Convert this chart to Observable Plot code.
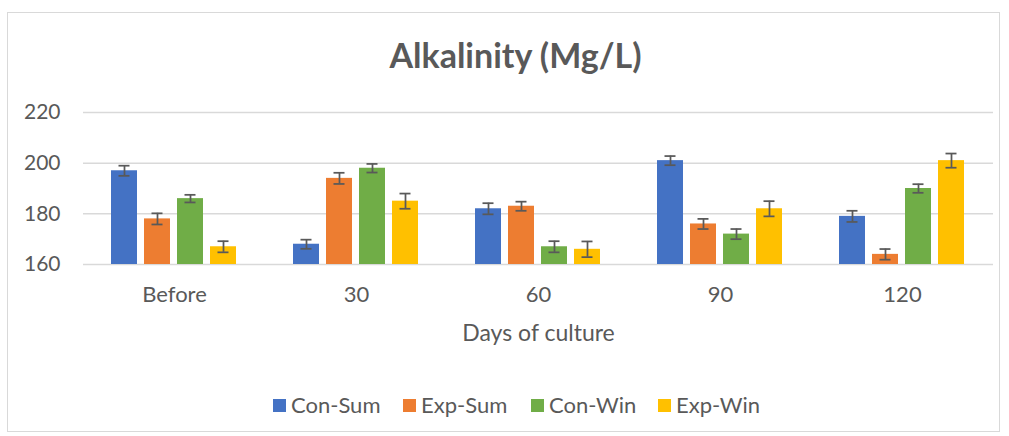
<!DOCTYPE html>
<html>
<head>
<meta charset="utf-8">
<script src="https://cdn.jsdelivr.net/npm/d3@7"></script>
<script src="https://cdn.jsdelivr.net/npm/@observablehq/plot@0.6"></script>
<style>
  body { margin: 0; background: #fff; font-family: Lato, "Open Sans", sans-serif; }
  #wrap { position: relative; width: 1009px; height: 436px; overflow: hidden; }
  #frame { position: absolute; left: 7px; top: 12px; width: 993px; height: 420px; border: 1px solid #d9d9d9; box-sizing: border-box; }
  #title { position: absolute; left: 0; width: 1031px; top: 35px; text-align: center; font-size: 34px; font-weight: bold; color: #595959; line-height: 1.2; }
  #chart { position: absolute; left: 0; top: 90px; }
  #xlabel { position: absolute; left: 0; width: 1077px; top: 319px; text-align: center; font-size: 23px; color: #595959; line-height: 1.2; }
  #legend { position: absolute; top: 392px; left: 0; width: 1009px; height: 30px; font-size: 22px; color: #595959; }
  .item { position: absolute; top: 0; display: flex; align-items: center; line-height: 26px; }
  .sw { width: 13px; height: 13px; margin-right: 5px; }
</style>
</head>
<body>
<div id="wrap">
  <div id="frame"></div>
  <div id="title">Alkalinity (Mg/L)</div>
  <div id="chart"></div>
  <div id="xlabel">Days of culture</div>
  <div id="legend"></div>
</div>
<script>
const days = ["Before", "30", "60", "90", "120"];
const seriesNames = ["Con-Sum", "Exp-Sum", "Con-Win", "Exp-Win"];
const colors = ["#4472C4", "#ED7D31", "#70AD47", "#FFC000"];
const conSum = [197, 168, 182, 201, 179];
const expSum = [178, 194, 183, 176, 164];
const conWin = [186, 198, 167, 172, 190];
const expWin = [167, 185, 166, 182, 201];
const conSumErr = [2.0, 1.8, 2.2, 1.8, 2.2];
const expSumErr = [2.2, 2.2, 1.8, 2.0, 2.1];
const conWinErr = [1.5, 1.7, 2.2, 2.0, 1.7];
const expWinErr = [2.2, 3.0, 3.1, 3.0, 2.8];
const yTicks = [160, 180, 200, 220];

const vals = [conSum, expSum, conWin, expWin];
const errs = [conSumErr, expSumErr, conWinErr, expWinErr];
const data = [];
days.forEach((d, i) => seriesNames.forEach((s, j) => {
  data.push({day: d, series: s, value: vals[j][i], err: errs[j][i]});
}));

const plot = Plot.plot({
  width: 1009,
  height: 270,
  marginLeft: 83,
  marginRight: 16,
  marginTop: 22,
  marginBottom: 96,
  style: {fontFamily: "Lato, 'Open Sans', sans-serif", fontSize: "20px", color: "#595959", background: "transparent", overflow: "visible"},
  fx: {domain: days, padding: 0, label: null},
  x: {domain: seriesNames, paddingInner: 0.21, paddingOuter: 0.86, axis: null},
  y: {domain: [160, 220], ticks: yTicks, label: null},
  color: {domain: seriesNames, range: colors},
  marks: [
    Plot.gridY(yTicks, {stroke: "#d9d9d9", strokeOpacity: 1, strokeWidth: 1.5}),
    Plot.axisY({ticks: yTicks, tickSize: 0, tickPadding: 23, label: null, fontSize: 21, fill: "#595959"}),
    Plot.axisFx({anchor: "bottom", tickSize: 0, tickPadding: 22, label: null, fontSize: 22, fill: "#595959"}),
    Plot.barY(data, {fx: "day", x: "series", y1: 160, y2: "value", fill: "series"}),
    Plot.ruleX(data, {fx: "day", x: "series", y1: d => d.value - d.err, y2: d => d.value + d.err, stroke: "#595959", strokeWidth: 1.75}),
    Plot.tickY(data, {fx: "day", x: "series", y: d => d.value - d.err, stroke: "#595959", strokeWidth: 1.75, insetLeft: 7.5, insetRight: 7.5}),
    Plot.tickY(data, {fx: "day", x: "series", y: d => d.value + d.err, stroke: "#595959", strokeWidth: 1.75, insetLeft: 7.5, insetRight: 7.5})
  ]
});
document.getElementById("chart").appendChild(plot);

const legend = document.getElementById("legend");
const lefts = [273, 403, 531, 658];
seriesNames.forEach((s, i) => {
  const it = document.createElement("div");
  it.className = "item";
  it.style.left = lefts[i] + "px";
  const sw = document.createElement("div");
  sw.className = "sw";
  sw.style.background = colors[i];
  const t = document.createElement("span");
  t.textContent = s;
  it.appendChild(sw);
  it.appendChild(t);
  legend.appendChild(it);
});
</script>
</body>
</html>
